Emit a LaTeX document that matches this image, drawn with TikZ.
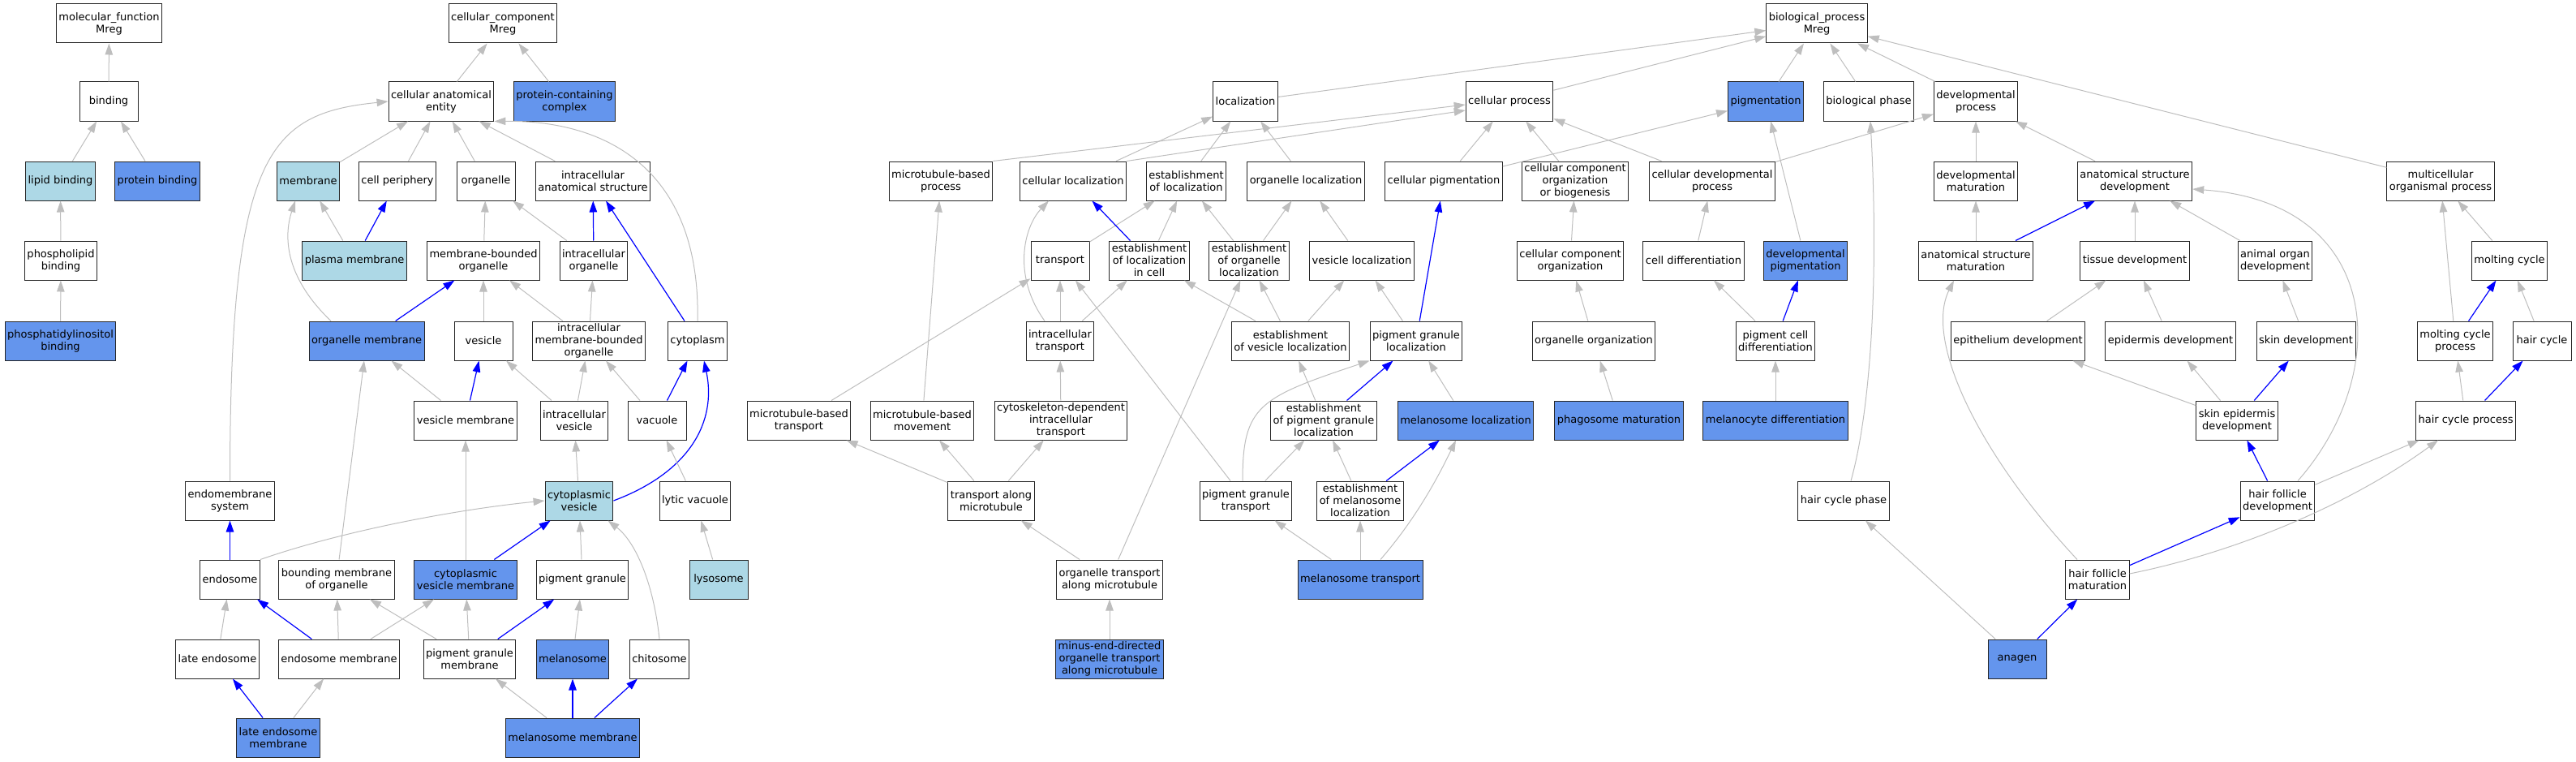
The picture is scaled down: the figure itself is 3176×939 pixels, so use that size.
\documentclass[tikz,border=0pt]{standalone}
\usepackage{fontspec}
\setmainfont{DejaVu Sans}
\usepackage{tikz}
\usetikzlibrary{arrows.meta}
\definecolor{hitblue}{HTML}{6495ED}
\definecolor{nearblue}{HTML}{ADD8E6}
\definecolor{isagrey}{HTML}{BEBEBE}
\newcommand{\gofont}{\fontsize{13}{15}\selectfont}

\begin{document}
\begin{tikzpicture}[x=1pt, y=-1pt,
		goterm/.style={draw=black!85, line width=1pt, fill=white, minimum width=72pt, minimum height=48pt, inner xsep=3pt, inner ysep=1pt, align=center, font=\gofont},
		gohit/.style={goterm, fill=hitblue},
		gonear/.style={goterm, fill=nearblue},
		isa/.style={draw=isagrey, line width=1pt, -{Triangle[length=14pt 0, width=9.5pt 0]}},
		partof/.style={draw=blue, line width=1.2pt, -{Triangle[length=14pt 0, width=9.5pt 0]}}]

		\useasboundingbox (0,0) rectangle (3176,939);

		\node[goterm] (mf) at (134.5,29) {molecular\_function\\Mreg};
		\node[goterm] (binding) at (134,125) {binding};
		\node[gonear] (lipbind) at (74.5,223) {lipid binding};
		\node[gohit] (protbind) at (194,223) {protein binding};
		\node[goterm] (phosbind) at (75,321) {phospholipid\\binding};
		\node[gohit] (pibind) at (74.5,420) {phosphatidylinositol\\binding};

		\node[goterm] (cc) at (620,29) {cellular\_component\\Mreg};
		\node[goterm] (cae) at (544,125) {cellular anatomical\\entity};
		\node[gohit] (pcc) at (696,125) {protein-containing\\complex};
		\node[gonear] (membrane) at (380,223) {membrane};
		\node[goterm] (cellper) at (490,223) {cell periphery};
		\node[goterm] (organelle) at (599,223) {organelle};
		\node[goterm] (ias) at (731,223) {intracellular\\anatomical structure};
		\node[gonear] (plasma) at (437,321) {plasma membrane};
		\node[goterm] (mbo) at (596,321) {membrane-bounded\\organelle};
		\node[goterm] (icorg) at (732,321) {intracellular\\organelle};
		\node[gohit] (orgmemb) at (452,420) {organelle membrane};
		\node[goterm] (vesicle) at (596,420) {vesicle};
		\node[goterm] (icmbo) at (726,420) {intracellular\\membrane-bounded\\organelle};
		\node[goterm] (cytoplasm) at (860,420) {cytoplasm};
		\node[goterm] (vesmemb) at (574,518) {vesicle membrane};
		\node[goterm] (icves) at (708,518) {intracellular\\vesicle};
		\node[goterm] (vacuole) at (810,518) {vacuole};
		\node[goterm] (endosys) at (283.5,617) {endomembrane\\system};
		\node[gonear] (cytves) at (714,617) {cytoplasmic\\vesicle};
		\node[goterm] (lytvac) at (857,617) {lytic vacuole};
		\node[goterm] (endosome) at (283.5,714) {endosome};
		\node[goterm] (boundmemb) at (415,714) {bounding membrane\\of organelle};
		\node[gohit] (cvm) at (574,714) {cytoplasmic\\vesicle membrane};
		\node[goterm] (pigran) at (718,714) {pigment granule};
		\node[gonear] (lysosome) at (886,714) {lysosome};
		\node[goterm] (lateendo) at (268,812) {late endosome};
		\node[goterm] (endomemb) at (418,812) {endosome membrane};
		\node[goterm] (pgm) at (579,812) {pigment granule\\membrane};
		\node[gohit] (melanosome) at (706,812) {melanosome};
		\node[goterm] (chitosome) at (813,812) {chitosome};
		\node[gohit] (lem) at (343,909) {late endosome\\membrane};
		\node[gohit] (mm) at (706,909) {melanosome membrane};

		\node[goterm] (bp) at (2240,29) {biological\_process\\Mreg};
		\node[goterm] (localization) at (1535.5,125) {localization};
		\node[goterm] (cellproc) at (1861,125) {cellular process};
		\node[gohit] (pigm) at (2177,125) {pigmentation};
		\node[goterm] (biophase) at (2304,125) {biological phase};
		\node[goterm] (devproc) at (2436,125) {developmental\\process};
		\node[goterm] (mtbproc) at (1160,223) {microtubule-based\\process};
		\node[goterm] (cellloc) at (1323,223) {cellular localization};
		\node[goterm] (estloc) at (1462.5,223) {establishment\\of localization};
		\node[goterm] (orgloc) at (1610,223) {organelle localization};
		\node[goterm] (cellpigm) at (1780,223) {cellular pigmentation};
		\node[goterm] (ccob) at (1942,223) {cellular component\\organization\\or biogenesis};
		\node[goterm] (celldevproc) at (2111,223) {cellular developmental\\process};
		\node[goterm] (devmat) at (2436,223) {developmental\\maturation};
		\node[goterm] (asdev) at (2632,223) {anatomical structure\\development};
		\node[goterm] (mop) at (3009,223) {multicellular\\organismal process};
		\node[goterm] (transport) at (1307,321) {transport};
		\node[goterm] (estlocc) at (1417,321) {establishment\\of localization\\in cell};
		\node[goterm] (estorgloc) at (1540,321) {establishment\\of organelle\\localization};
		\node[goterm] (vesloc) at (1679,321) {vesicle localization};
		\node[goterm] (cco) at (1936,321) {cellular component\\organization};
		\node[goterm] (celldiff) at (2088,321) {cell differentiation};
		\node[gohit] (devpigm) at (2226,321) {developmental\\pigmentation};
		\node[goterm] (asmat) at (2436,321) {anatomical structure\\maturation};
		\node[goterm] (tisdev) at (2632,321) {tissue development};
		\node[goterm] (aodev) at (2805,321) {animal organ\\development};
		\node[goterm] (moltcyc) at (3094,321) {molting cycle};
		\node[goterm] (ictransport) at (1307,420) {intracellular\\transport};
		\node[goterm] (estvesloc) at (1591,420) {establishment\\of vesicle localization};
		\node[goterm] (pgloc) at (1746,420) {pigment granule\\localization};
		\node[goterm] (orgorg) at (1965,420) {organelle organization};
		\node[goterm] (pcdiff) at (2189,420) {pigment cell\\differentiation};
		\node[goterm] (epithdev) at (2488,420) {epithelium development};
		\node[goterm] (epiddev) at (2676,420) {epidermis development};
		\node[goterm] (skindev) at (2843,420) {skin development};
		\node[goterm] (mcp) at (3027,420) {molting cycle\\process};
		\node[goterm] (haircyc) at (3134,420) {hair cycle};
		\node[goterm] (mtbtransport) at (985,518) {microtubule-based\\transport};
		\node[goterm] (mtbmove) at (1137,518) {microtubule-based\\movement};
		\node[goterm] (cdit) at (1308,518) {cytoskeleton-dependent\\intracellular\\transport};
		\node[goterm] (estpgloc) at (1632,518) {establishment\\of pigment granule\\localization};
		\node[gohit] (melloc) at (1807,518) {melanosome localization};
		\node[gohit] (phago) at (1996,518) {phagosome maturation};
		\node[gohit] (melanocyte) at (2189,518) {melanocyte differentiation};
		\node[goterm] (sed) at (2758,518) {skin epidermis\\development};
		\node[goterm] (hcp) at (3040,518) {hair cycle process};
		\node[goterm] (tam) at (1222,617) {transport along\\microtubule};
		\node[goterm] (pgtransport) at (1536,617) {pigment granule\\transport};
		\node[goterm] (estmelloc) at (1677,617) {establishment\\of melanosome\\localization};
		\node[goterm] (hcphase) at (2273,617) {hair cycle phase};
		\node[goterm] (hfdev) at (2808,617) {hair follicle\\development};
		\node[goterm] (otam) at (1368,714) {organelle transport\\along microtubule};
		\node[gohit] (meltransport) at (1677,714) {melanosome transport};
		\node[goterm] (hfmat) at (2586,714) {hair follicle\\maturation};
		\node[gohit] (minus) at (1368,812) {minus-end-directed\\organelle transport\\along microtubule};
		\node[gohit] (anagen) at (2487,812) {anagen};

		\draw[isa] (binding) -- (mf);
		\draw[isa] (lipbind) -- (binding);
		\draw[isa] (protbind) -- (binding);
		\draw[isa] (phosbind) -- (lipbind);
		\draw[isa] (pibind) -- (phosbind);

		\draw[isa] (cae) -- (cc);
		\draw[isa] (pcc) -- (cc);
		\draw[isa] (membrane) -- (cae);
		\draw[isa] (cellper) -- (cae);
		\draw[isa] (organelle) -- (cae);
		\draw[isa] (ias) -- (cae);
		\draw[isa] (endosys.north) .. controls (283.5,190) and (330,140) .. (cae.west);
		\draw[isa] (cytoplasm.north) .. controls (864,220) and (760,148) .. (cae.south east);
		\draw[isa] (plasma) -- (membrane);
		\draw[partof] (plasma) -- (cellper);
		\draw[isa] (mbo) -- (organelle);
		\draw[isa] (icorg) -- (organelle);
		\draw[partof] (icorg) -- (ias);
		\draw[partof] (cytoplasm) -- (ias);
		\draw[isa] ([xshift=-44pt]orgmemb.north) .. controls (350,340) and (350,290) .. ([xshift=-16pt]membrane.south);
		\draw[partof] (orgmemb) -- (mbo);
		\draw[isa] (vesicle) -- (mbo);
		\draw[isa] (icmbo) -- (mbo);
		\draw[isa] (icmbo) -- (icorg);
		\draw[isa] (vesmemb) -- (orgmemb);
		\draw[partof] (vesmemb) -- (vesicle);
		\draw[isa] (icves) -- (vesicle);
		\draw[isa] (icves) -- (icmbo);
		\draw[isa] (vacuole) -- (icmbo);
		\draw[partof] (vacuole) -- (cytoplasm);
		\draw[isa] (cytves) -- (icves);
		\draw[partof] (cytves.east) .. controls (850,582) and (884,520) .. ([xshift=8pt]cytoplasm.south);
		\draw[isa] (lytvac) -- (vacuole);
		\draw[isa] (lysosome) -- (lytvac);
		\draw[partof] (endosome) -- (endosys);
		\draw[isa] (endosome.north east) .. controls (420,655) and (560,628) .. (cytves.west);
		\draw[isa] (boundmemb) -- (orgmemb);
		\draw[isa] (cvm) -- (vesmemb);
		\draw[partof] (cvm) -- (cytves);
		\draw[isa] (pigran) -- (cytves);
		\draw[isa] (chitosome.north) .. controls (806,720) and (784,668) .. ([xshift=-7pt]cytves.south east);
		\draw[isa] (lateendo) -- (endosome);
		\draw[partof] (endomemb) -- (endosome);
		\draw[isa] (endomemb) -- (boundmemb);
		\draw[isa] (endomemb) -- (cvm);
		\draw[isa] (pgm) -- (boundmemb);
		\draw[isa] (pgm) -- (cvm);
		\draw[partof] (pgm) -- (pigran);
		\draw[isa] (melanosome) -- (pigran);
		\draw[partof] (lem) -- (lateendo);
		\draw[isa] (lem) -- (endomemb);
		\draw[isa] (mm) -- (pgm);
		\draw[partof] (mm) -- (melanosome);
		\draw[partof] (mm) -- (chitosome);

		\draw[isa] (localization) -- (bp);
		\draw[isa] (cellproc) -- (bp);
		\draw[isa] (pigm) -- (bp);
		\draw[isa] (biophase) -- (bp);
		\draw[isa] (devproc) -- (bp);
		\draw[isa] (mop) -- (bp);
		\draw[isa] (mtbproc.north east) -- ([yshift=-4pt]cellproc.west);
		\draw[isa] (cellloc.north east) -- ([yshift=-11pt]cellproc.west);
		\draw[isa] (cellloc) -- (localization);
		\draw[isa] (estloc) -- (localization);
		\draw[isa] (orgloc) -- (localization);
		\draw[isa] (cellpigm) -- (cellproc);
		\draw[isa] (ccob) -- (cellproc);
		\draw[isa] (celldevproc) -- (cellproc);
		\draw[isa] (cellpigm) -- (pigm);
		\draw[isa] (celldevproc) -- (devproc);
		\draw[isa] (devmat) -- (devproc);
		\draw[isa] (asdev) -- (devproc);
		\draw[isa] (transport) -- (estloc);
		\draw[isa] (estlocc) -- (estloc);
		\draw[partof] (estlocc) -- (cellloc);
		\draw[isa] (estorgloc) -- (estloc);
		\draw[isa] (estorgloc) -- (orgloc);
		\draw[isa] (vesloc) -- (orgloc);
		\draw[partof] (pgloc) -- (cellpigm);
		\draw[isa] (cco) -- (ccob);
		\draw[isa] (celldiff) -- (celldevproc);
		\draw[isa] (devpigm) -- (pigm);
		\draw[isa] (asmat) -- (devmat);
		\draw[partof] (asmat) -- (asdev);
		\draw[isa] (tisdev) -- (asdev);
		\draw[isa] (aodev) -- (asdev);
		\draw[isa] (moltcyc) -- (mop);
		\draw[isa] (mcp) -- (mop);
		\draw[partof] (mcp) -- (moltcyc);
		\draw[isa] (haircyc) -- (moltcyc);
		\draw[isa] (ictransport) -- (transport);
		\draw[isa] (ictransport) -- (estlocc);
		\draw[isa] ([xshift=-19pt]ictransport.north) .. controls (1248,340) and (1262,280) .. ([xshift=-30pt]cellloc.south);
		\draw[isa] (estvesloc) -- (estlocc);
		\draw[isa] (estvesloc) -- (estorgloc);
		\draw[isa] (estvesloc) -- (vesloc);
		\draw[isa] (pgloc) -- (vesloc);
		\draw[isa] (orgorg) -- (cco);
		\draw[isa] (pcdiff) -- (celldiff);
		\draw[partof] (pcdiff) -- (devpigm);
		\draw[isa] (epithdev) -- (tisdev);
		\draw[isa] (epiddev) -- (tisdev);
		\draw[isa] (skindev) -- (aodev);
		\draw[isa] (mtbtransport) -- (transport);
		\draw[isa] (mtbmove) -- (mtbproc);
		\draw[isa] (cdit) -- (ictransport);
		\draw[isa] (estpgloc) -- (estvesloc);
		\draw[partof] (estpgloc) -- (pgloc);
		\draw[isa] (melloc) -- (pgloc);
		\draw[isa] (phago) -- (orgorg);
		\draw[isa] (melanocyte) -- (pcdiff);
		\draw[isa] (sed) -- (epithdev);
		\draw[isa] (sed) -- (epiddev);
		\draw[partof] (sed) -- (skindev);
		\draw[isa] (hcp) -- (mcp);
		\draw[partof] (hcp) -- (haircyc);
		\draw[isa] (tam) -- (mtbtransport);
		\draw[isa] (tam) -- (mtbmove);
		\draw[isa] (tam) -- (cdit);
		\draw[isa] (pgtransport) -- (transport);
		\draw[isa] ([xshift=-4pt]pgtransport.north) .. controls (1532,500) and (1552,490) .. (pgloc.south west);
		\draw[isa] (pgtransport) -- (estpgloc);
		\draw[isa] (estmelloc) -- (estpgloc);
		\draw[partof] (estmelloc) -- (melloc);
		\draw[isa] ([xshift=9pt]hcphase.north) .. controls (2308,500) and (2316,330) .. ([xshift=2pt]biophase.south);
		\draw[partof] (hfdev) -- (sed);
		\draw[isa] ([xshift=25pt]hfdev.north) .. controls (2950,460) and (2940,250) .. ([yshift=-10pt]asdev.east);
		\draw[isa] (hfdev) -- (hcp);
		\draw[isa] (otam) -- (tam);
		\draw[isa] (otam) -- (estorgloc);
		\draw[isa] (meltransport) -- (pgtransport);
		\draw[isa] (meltransport) -- (estmelloc);
		\draw[isa] ([xshift=25pt]meltransport.north) .. controls (1745,640) and (1772,590) .. ([xshift=-12pt]melloc.south);
		\draw[isa] ([xshift=-25pt]hfmat.north) .. controls (2440,560) and (2372,420) .. ([xshift=-27pt]asmat.south);
		\draw[partof] (hfmat) -- (hfdev);
		\draw[isa] ([yshift=7pt]hfmat.east) .. controls (2760,680) and (2900,620) .. ([xshift=-34pt]hcp.south);
		\draw[isa] (minus) -- (otam);
		\draw[isa] (anagen) -- (hcphase);
		\draw[partof] (anagen) -- (hfmat);
	\end{tikzpicture}
\end{document}
